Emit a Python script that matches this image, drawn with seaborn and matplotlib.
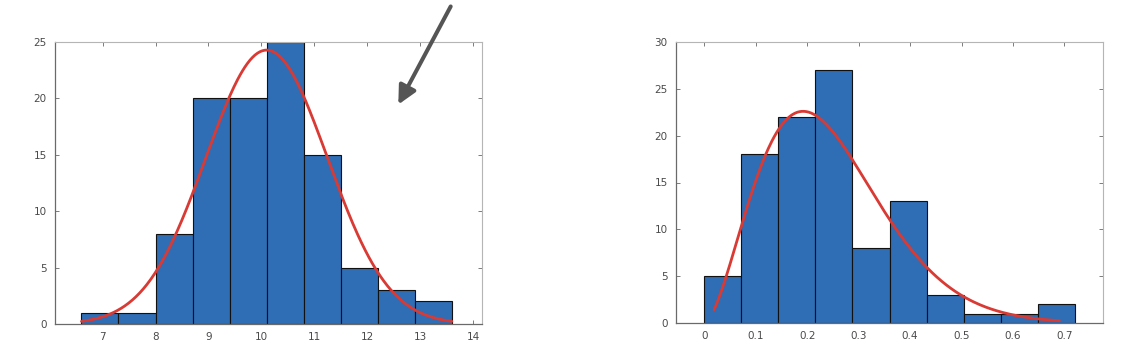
import numpy as np
import pandas as pd
import matplotlib
matplotlib.use("Agg")
import matplotlib.pyplot as plt
import seaborn as sns

# ---------------- data ----------------
left_edges = [6.6, 7.3, 8.0, 8.7, 9.4, 10.1, 10.8, 11.5, 12.2, 12.9, 13.6]
left_counts = [1, 1, 8, 20, 20, 25, 15, 5, 3, 2]
left_xticks = [7, 8, 9, 10, 11, 12, 13, 14]
left_yticks = [0, 5, 10, 15, 20, 25]
# normal fit
left_mu = 10.1
left_sigma = 1.15

right_edges = [0.0, 0.072, 0.144, 0.216, 0.288, 0.36, 0.432, 0.504, 0.576, 0.648, 0.72]
right_counts = [5, 18, 22, 27, 8, 13, 3, 1, 1, 2]
right_xticks = [0, 0.1, 0.2, 0.3, 0.4, 0.5, 0.6, 0.7]
right_xticklabels = ["0", "0.1", "0.2", "0.3", "0.4", "0.5", "0.6", "0.7"]
right_yticks = [0, 5, 10, 15, 20, 25, 30]
# skewed fit: mode, peak height, shape parameters
right_mode = 0.192
right_peak = 22.6
right_shape_d = 1.64
right_shape_p = 1.55
right_fit_range = (0.019, 0.69)

BAR = "#2f6db5"
RED = "#d93a34"

sns.set_theme(style="white")
plt.rcParams['font.family'] = ['DejaVu Sans']

fig = plt.figure(figsize=(11.34, 3.58), dpi=100)
axL = fig.add_axes([55 / 1134, 1 - 324 / 358, 427 / 1134, 282 / 358])
axR = fig.add_axes([676 / 1134, 1 - 323 / 358, 427 / 1134, 281 / 358])


def draw_hist(ax, edges, counts):
    edges = np.asarray(edges, dtype=float)
    centers = np.round((edges[:-1] + edges[1:]) / 2, 6)
    df = pd.DataFrame({"center": centers, "count": np.asarray(counts, dtype=float)})
    sns.barplot(data=df, x="center", y="count", ax=ax, native_scale=True,
                width=1.0, color=BAR, saturation=1, errorbar=None,
                edgecolor="#111111", linewidth=0.8)


def style_axes(ax, xlim, ylim, xticks, yticks, xticklabels=None):
    ax.set_xlim(*xlim)
    ax.set_ylim(*ylim)
    ax.set_xticks(xticks)
    if xticklabels is not None:
        ax.set_xticklabels(xticklabels)
    else:
        ax.set_xticklabels([str(t) for t in xticks])
    ax.set_yticks(yticks)
    ax.set_yticklabels([str(t) for t in yticks])
    ax.set_xlabel("")
    ax.set_ylabel("")
    ax.tick_params(axis="both", which="both", direction="in", length=3,
                   width=0.6, color="#666666", labelsize=7.5,
                   labelcolor="#4a4a4a", top=True, right=True,
                   bottom=True, left=True, pad=6)
    for side in ["bottom", "left"]:
        ax.spines[side].set_color("#6a6a6a")
        ax.spines[side].set_linewidth(0.9)
    for side in ["top", "right"]:
        ax.spines[side].set_color("#b5b5b5")
        ax.spines[side].set_linewidth(0.8)
    ax.grid(False)


# left panel
draw_hist(axL, left_edges, left_counts)
n_left = sum(left_counts)
bw_left = left_edges[1] - left_edges[0]
xl = np.linspace(left_edges[0], left_edges[-1], 300)
yl = n_left * bw_left / (left_sigma * np.sqrt(2 * np.pi)) * np.exp(-0.5 * ((xl - left_mu) / left_sigma) ** 2)
sns.lineplot(x=xl, y=yl, ax=axL, color=RED, linewidth=2.0)
style_axes(axL, (6.1, 14.17), (0, 25), left_xticks, left_yticks)

# right panel
draw_hist(axR, right_edges, right_counts)
xr = np.linspace(right_fit_range[0], right_fit_range[1], 300)
r = xr / right_mode
c = right_shape_d / right_shape_p
yr = right_peak * r ** right_shape_d * np.exp(c * (1 - r ** right_shape_p))
sns.lineplot(x=xr, y=yr, ax=axR, color=RED, linewidth=2.0)
style_axes(axR, (-0.055, 0.775), (0, 30), right_xticks, right_yticks, right_xticklabels)

# arrow annotation
fig.patches.append(matplotlib.patches.FancyArrowPatch(
    (452 / 1134, 1 - 4 / 358), (397 / 1134, 1 - 107 / 358),
    transform=fig.transFigure, arrowstyle="-|>,head_length=5,head_width=2.5",
    mutation_scale=2.2, color="#555555", linewidth=2.9))

fig.savefig("out.png", dpi=100)
